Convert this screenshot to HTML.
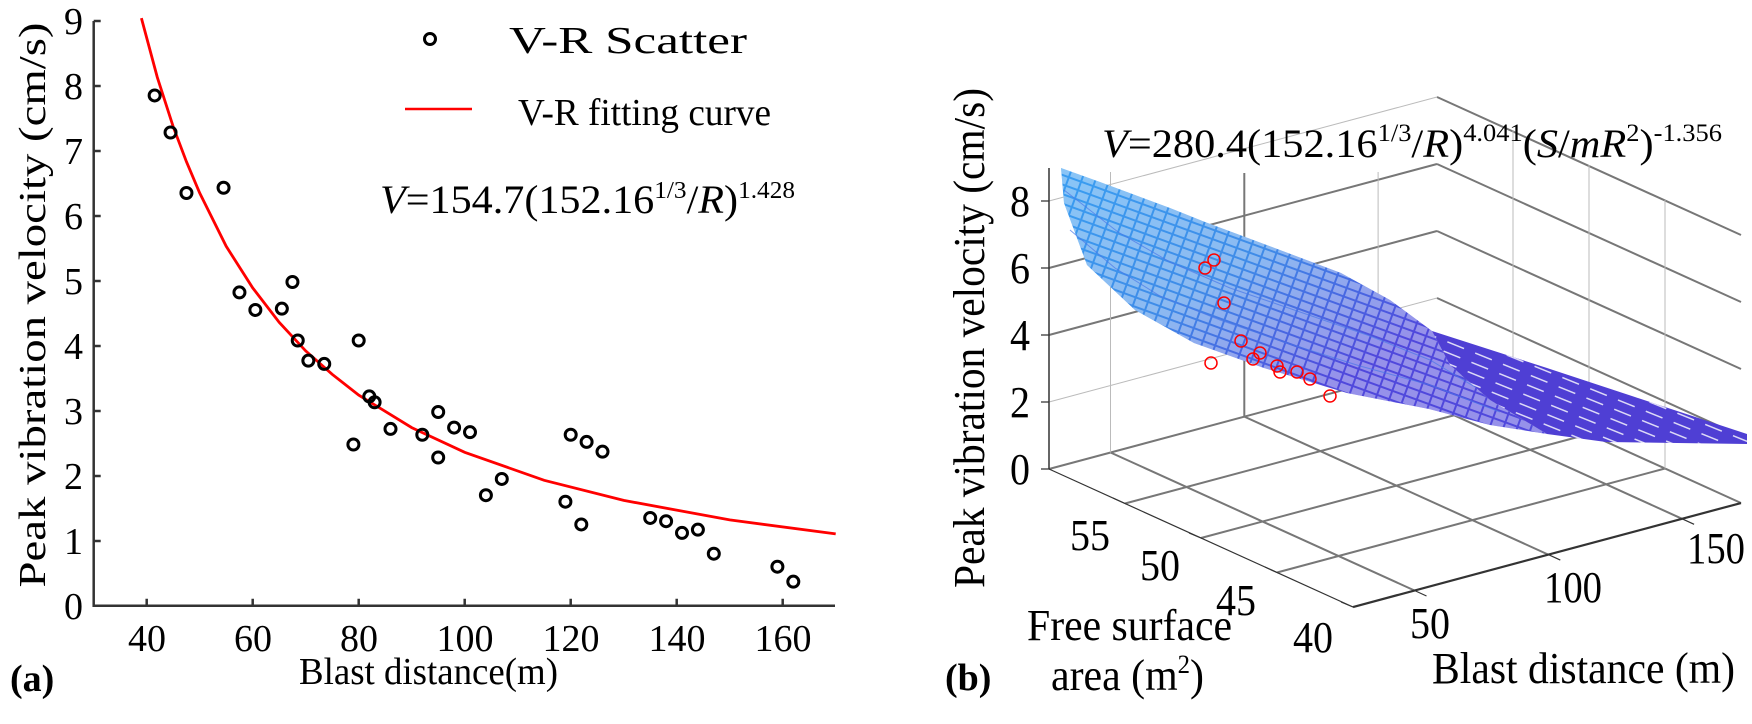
<!DOCTYPE html>
<html><head><meta charset="utf-8">
<style>
html,body{margin:0;padding:0;background:#fff;}
svg{display:block;font-family:"Liberation Serif",serif;}
</style></head>
<body>
<svg width="1752" height="724" viewBox="0 0 1752 724" xmlns="http://www.w3.org/2000/svg">
<defs>
<linearGradient id="sg" gradientUnits="userSpaceOnUse" x1="1100" y1="170" x2="1250" y2="430">
<stop offset="0" stop-color="#3a9cf0"/><stop offset="0.5" stop-color="#3f8ce8"/><stop offset="1" stop-color="#5048dc"/>
</linearGradient>
<pattern id="mesh" patternUnits="userSpaceOnUse" width="13" height="9" patternTransform="rotate(20)">
<rect x="0" y="0" width="11" height="7" fill="#fff" fill-opacity="0.4"/>
</pattern>
<pattern id="dash" patternUnits="userSpaceOnUse" width="30" height="10" patternTransform="rotate(22)">
<rect x="0" y="4" width="18" height="1.5" fill="#fff" fill-opacity="0.8"/>
</pattern>
</defs>
<rect width="1752" height="724" fill="#fff"/>

<!-- LEFT PLOT -->
<g stroke="#333" stroke-width="2.5" fill="none">
<polyline points="93.7,21 93.7,605.7 835,605.7"/>
<path d="M93.7 21h7M93.7 86h7M93.7 151h7M93.7 216h7M93.7 281h7M93.7 346h7M93.7 411h7M93.7 476h7M93.7 541h7M146.7 605.7v-7M252.7 605.7v-7M358.7 605.7v-7M464.7 605.7v-7M570.7 605.7v-7M676.7 605.7v-7M782.7 605.7v-7"/>
</g>
<polyline fill="none" stroke="#f00" stroke-width="2.8" points="141.4,18.1 157.3,77.3 173.2,126.7 186.45,161.7 199.7,193 226.2,246.3 252.7,287.9 279.2,322.3 305.7,350.9 332.2,374.3 358.7,395.1 411.7,427.6 464.7,452.3 544.2,480.3 623.7,500.4 729.7,519.9 835.7,533.9"/>
<g fill="none" stroke="#000" stroke-width="3">
<circle cx="154.65" cy="95.45" r="5.5"/><circle cx="170.55" cy="132.5" r="5.5"/><circle cx="186.45" cy="193" r="5.5"/><circle cx="223.55" cy="187.75" r="5.5"/><circle cx="239.45" cy="292.4" r="5.5"/><circle cx="255.35" cy="309.95" r="5.5"/><circle cx="281.85" cy="308.65" r="5.5"/><circle cx="292.45" cy="282" r="5.5"/><circle cx="297.75" cy="340.5" r="5.5"/><circle cx="308.35" cy="360.65" r="5.5"/><circle cx="324.25" cy="363.9" r="5.5"/><circle cx="353.4" cy="444.5" r="5.5"/><circle cx="358.7" cy="340.5" r="5.5"/><circle cx="369.3" cy="396.4" r="5.5"/><circle cx="374.6" cy="402.25" r="5.5"/><circle cx="390.5" cy="428.9" r="5.5"/><circle cx="422.3" cy="434.75" r="5.5"/><circle cx="438.2" cy="412" r="5.5"/><circle cx="438.2" cy="457.5" r="5.5"/><circle cx="454.1" cy="427.6" r="5.5"/><circle cx="470" cy="432.15" r="5.5"/><circle cx="485.9" cy="495.2" r="5.5"/><circle cx="501.8" cy="478.95" r="5.5"/><circle cx="565.4" cy="501.7" r="5.5"/><circle cx="570.7" cy="434.75" r="5.5"/><circle cx="581.3" cy="524.45" r="5.5"/><circle cx="586.6" cy="441.9" r="5.5"/><circle cx="602.5" cy="451.65" r="5.5"/><circle cx="650.2" cy="517.95" r="5.5"/><circle cx="666.1" cy="521.2" r="5.5"/><circle cx="682" cy="532.9" r="5.5"/><circle cx="697.9" cy="529.65" r="5.5"/><circle cx="713.8" cy="553.7" r="5.5"/><circle cx="777.4" cy="566.7" r="5.5"/><circle cx="793.3" cy="581.65" r="5.5"/>
<circle cx="430" cy="39" r="5.5"/>
</g>
<line x1="405" y1="109" x2="472" y2="109" stroke="#f00" stroke-width="2.5"/>

<g font-size="38" fill="#000">
<text x="83" y="34" text-anchor="end">9</text>
<text x="83" y="99" text-anchor="end">8</text>
<text x="83" y="164" text-anchor="end">7</text>
<text x="83" y="229" text-anchor="end">6</text>
<text x="83" y="294" text-anchor="end">5</text>
<text x="83" y="359" text-anchor="end">4</text>
<text x="83" y="424" text-anchor="end">3</text>
<text x="83" y="489" text-anchor="end">2</text>
<text x="83" y="554" text-anchor="end">1</text>
<text x="83" y="619" text-anchor="end">0</text>
<text x="147" y="651" text-anchor="middle">40</text>
<text x="253" y="651" text-anchor="middle">60</text>
<text x="359" y="651" text-anchor="middle">80</text>
<text x="465" y="651" text-anchor="middle">100</text>
<text x="571" y="651" text-anchor="middle">120</text>
<text x="677" y="651" text-anchor="middle">140</text>
<text x="783" y="651" text-anchor="middle">160</text>
<text x="299" y="684" textLength="259" lengthAdjust="spacingAndGlyphs">Blast distance(m)</text>
<text x="10" y="691" font-weight="bold">(a)</text>
<text transform="translate(45,305) rotate(-90)" text-anchor="middle" textLength="565" lengthAdjust="spacingAndGlyphs">Peak vibration velocity (cm/s)</text>
<text x="509" y="53" font-size="38" textLength="238" lengthAdjust="spacingAndGlyphs">V-R Scatter</text>
<text x="518" y="125" font-size="38" textLength="253" lengthAdjust="spacingAndGlyphs">V-R fitting curve</text>
<text x="380" y="213" font-size="40" textLength="415" lengthAdjust="spacingAndGlyphs"><tspan font-style="italic">V</tspan>=154.7(152.16<tspan font-size="24" dy="-15">1/3</tspan><tspan dy="15">/</tspan><tspan font-style="italic">R</tspan>)<tspan font-size="24" dy="-15">1.428</tspan></text>
</g>

<!-- RIGHT PLOT grid -->
<g stroke="#777" stroke-width="2" fill="none">
<path d="M1110.5 452.5L1414.5 590.5M1244.3 416.6L1548.3 554.6M1378.1 380.8L1682.1 518.8M1125 503.5L1513 399.5M1201 538L1589 434M1277 572.5L1665 468.5M1049 469L1437 365L1741 503"/>
<path d="M1049 335L1437 231M1049 268L1437 164"/>
<path d="M1244.3 416.6V173" />
<path d="M1437 298L1741 436M1437 231L1741 369M1437 164L1741 302M1437 97L1741 235"/>
</g>
<g stroke="#bbb" stroke-width="1" fill="none">
<path d="M1049 402L1437 298M1049 201L1437 97M1110.5 452.5V172M1378.1 380.8V172M1513 399.5V130M1589 434V165M1665 468.5V200"/>
</g>
<g stroke="#333" fill="none">
<path d="M1049 469V168" stroke-width="1.5"/>
<path d="M1049 469L1353 607" stroke-width="1.2"/>
<path d="M1353 607L1741 503" stroke-width="2.2"/>
<path d="M1041 469h8M1041 402h8M1041 335h8M1041 268h8M1041 201h8M1113 498l12 5.5M1189 533l12 5M1265 567l12 5.5M1341 602l12 5M1414.5 590.5l12 5.5M1548.3 554.6l12 5.5M1682.1 518.8l12 5.5" stroke-width="1.2"/>
</g>

<!-- surface -->
<path d="M1061 168L1100 182L1135 195L1170 208L1205 222L1272 247L1341 273L1390 300L1432 331L1450 365L1490 400L1547 434L1490 425L1429 409L1347 393L1264 368L1194 343L1135 310L1087 265L1064 203Z" fill="url(#sg)"/>
<path d="M1061 168L1100 182L1135 195L1170 208L1205 222L1272 247L1341 273L1390 300L1432 331L1450 365L1490 400L1547 434L1490 425L1429 409L1347 393L1264 368L1194 343L1135 310L1087 265L1064 203Z" fill="url(#mesh)"/>
<g stroke="#4a78e8" stroke-width="1" fill="none" opacity="0.7">
<path d="M1064 190L1118 232L1170 262L1230 288L1300 312L1370 336L1430 360L1480 390"/>
<path d="M1070 230L1115 268L1160 296L1220 320L1290 344L1360 366L1430 385L1500 412"/>
</g>
<path d="M1432 331L1547 368L1747 434L1747 444L1606 442L1547 434L1490 400L1450 365Z" fill="#4f3fd4"/>
<path d="M1432 331L1547 368L1747 434L1747 444L1606 442L1547 434L1490 400L1450 365Z" fill="url(#dash)"/>

<g fill="none" stroke="#f00" stroke-width="1.5">
<circle cx="1205" cy="268" r="6"/><circle cx="1214" cy="260" r="6"/><circle cx="1224" cy="303" r="6"/><circle cx="1241" cy="341" r="6"/><circle cx="1260" cy="353" r="6"/><circle cx="1253" cy="359" r="6"/><circle cx="1277" cy="366" r="6"/><circle cx="1280" cy="372" r="6"/><circle cx="1297" cy="372" r="6"/><circle cx="1310" cy="379" r="6"/><circle cx="1330" cy="396" r="6"/><circle cx="1211" cy="363" r="6"/>
</g>

<g font-size="44" fill="#000">
<text x="1102" y="157" font-size="40" textLength="620" lengthAdjust="spacingAndGlyphs"><tspan font-style="italic">V</tspan>=280.4(152.16<tspan font-size="25" dy="-16">1/3</tspan><tspan dy="16">/</tspan><tspan font-style="italic">R</tspan>)<tspan font-size="25" dy="-16">4.041</tspan><tspan dy="16">(</tspan><tspan font-style="italic">S</tspan>/<tspan font-style="italic">mR</tspan><tspan font-size="25" dy="-16">2</tspan><tspan dy="16">)</tspan><tspan font-size="25" dy="-16">-1.356</tspan></text>
<text x="1010" y="216" textLength="20" lengthAdjust="spacingAndGlyphs">8</text>
<text x="1010" y="283" textLength="20" lengthAdjust="spacingAndGlyphs">6</text>
<text x="1010" y="350" textLength="20" lengthAdjust="spacingAndGlyphs">4</text>
<text x="1010" y="417" textLength="20" lengthAdjust="spacingAndGlyphs">2</text>
<text x="1010" y="484" textLength="20" lengthAdjust="spacingAndGlyphs">0</text>
<text x="1070" y="550" textLength="40" lengthAdjust="spacingAndGlyphs">55</text>
<text x="1140" y="580" textLength="40" lengthAdjust="spacingAndGlyphs">50</text>
<text x="1216" y="615" textLength="40" lengthAdjust="spacingAndGlyphs">45</text>
<text x="1293" y="652" textLength="40" lengthAdjust="spacingAndGlyphs">40</text>
<text x="1410" y="638" textLength="40" lengthAdjust="spacingAndGlyphs">50</text>
<text x="1544" y="602" textLength="58" lengthAdjust="spacingAndGlyphs">100</text>
<text x="1687" y="563" textLength="58" lengthAdjust="spacingAndGlyphs">150</text>
<text x="1027" y="640" textLength="205" lengthAdjust="spacingAndGlyphs">Free surface</text>
<text x="1051" y="690" textLength="153" lengthAdjust="spacingAndGlyphs">area (m<tspan font-size="26" dy="-17">2</tspan><tspan dy="17">)</tspan></text>
<text x="1432" y="683" textLength="303" lengthAdjust="spacingAndGlyphs">Blast distance (m)</text>
<text x="945" y="690" font-size="38" font-weight="bold">(b)</text>
<text transform="translate(984,338) rotate(-90)" text-anchor="middle" textLength="500" lengthAdjust="spacingAndGlyphs">Peak vibration velocity (cm/s)</text>
</g>
</svg>
</body></html>
